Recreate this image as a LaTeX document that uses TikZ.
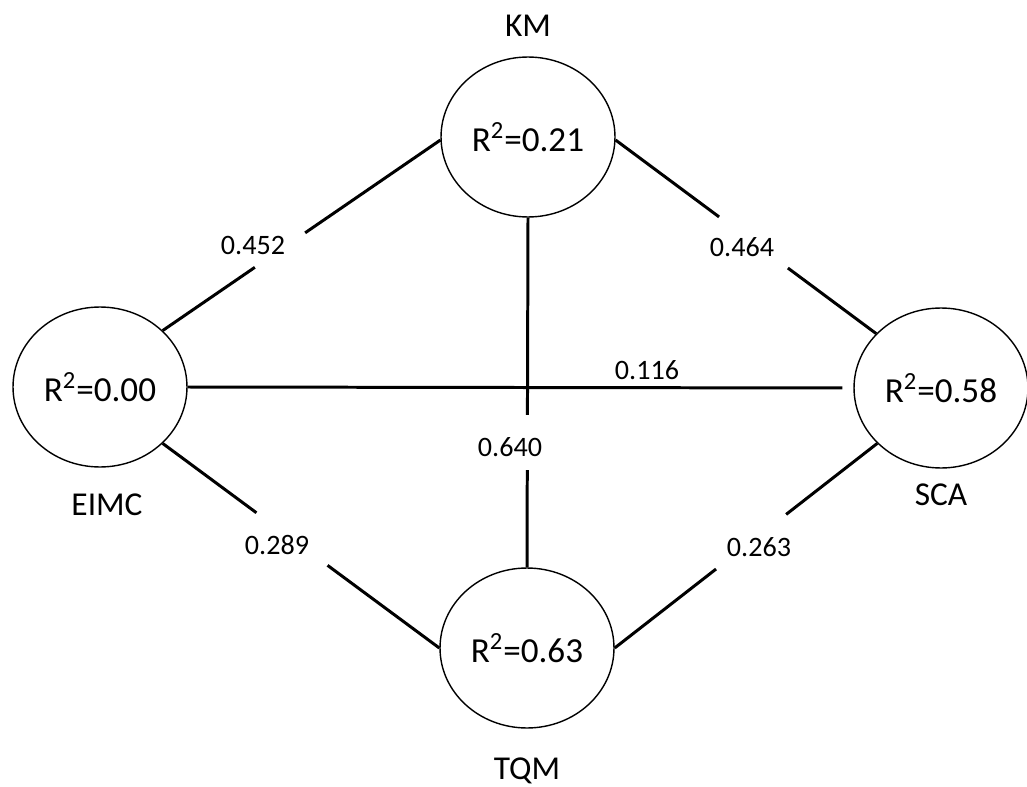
\documentclass[tikz,border=0pt]{standalone}
\usepackage{fontspec}
\setmainfont{Carlito}
\usetikzlibrary{positioning,calc}
\usetikzlibrary{shapes.geometric}
\tikzset{
        % Latent variables
        latent/.style={ellipse, draw=black, line width=0.8pt, minimum width=3.48cm, minimum height=3.2cm, inner sep=0pt, font=\fontsize{20}{24}\selectfont},
        % Variable names
        varname/.style={inner sep=0pt, font=\fontsize{19}{23}\selectfont},
        % Path coefficients
        coef/.style={inner sep=0pt, font=\fontsize{16}{19}\selectfont},
        % Paths
        pathline/.style={line width=1.7pt}
}

\begin{document}
\begin{tikzpicture}[x=0.02cm, y=-0.02cm]
    \useasboundingbox (0,0) rectangle (1027,787);

    \node[latent] (km) at (528,137) {R\textsuperscript{2}=0.21};
    \node[latent] (eimc) at (100,387) {R\textsuperscript{2}=0.00};
    \node[latent] (sca) at (941,388) {R\textsuperscript{2}=0.58};
    \node[latent] (tqm) at (527,648) {R\textsuperscript{2}=0.63};

    \node[varname, above=0.39cm of km] (kmname) {KM};
    \node[varname, below=0.51cm of eimc, xshift=0.14cm] (eimcname) {EIMC};
    \node[varname, below=0.29cm of sca] (scaname) {SCA};
    \node[varname, below=0.57cm of tqm] (tqmname) {TQM};

    % paths broken for their coefficients
    \foreach \from/\to/\gs/\ge in {eimc.42/km.182/.332/.513, km.358/sca.140/.397/.661, km.south/tqm.north/.564/.722, eimc.318/tqm.180/.339/.596, tqm.0/sca.221/.386/.653}
        {
            \draw[pathline] (\from) -- ($(\from)!\gs!(\to)$);
            \draw[pathline] ($(\from)!\ge!(\to)$) -- (\to);
        }
    \draw[pathline, shorten >=0.22cm] (eimc.east) -- (sca.west);

    \node[coef] (c452) at (253,245) {0.452};
    \node[coef] (c464) at (742,247) {0.464};
    \node[coef] (c116) at (647,370) {0.116};
    \node[coef] (c640) at (510,447) {0.640};
    \node[coef] (c289) at (277,545) {0.289};
    \node[coef] (c263) at (759,547) {0.263};
\end{tikzpicture}
\end{document}
